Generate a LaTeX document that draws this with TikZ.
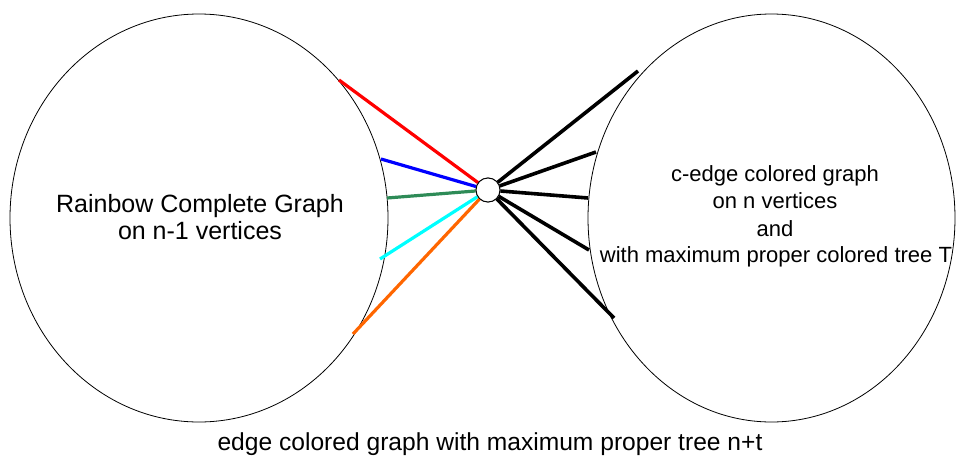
\documentclass[tikz,border=0pt]{standalone}
\usepackage{fontspec}
\setmainfont{Liberation Sans}
\usetikzlibrary{shapes.geometric}
\definecolor{eRed}{RGB}{255,0,0}
\definecolor{eBlue}{RGB}{0,0,255}
\definecolor{eGreen}{RGB}{46,139,87}
\definecolor{eCyan}{RGB}{0,255,255}
\definecolor{eOrange}{RGB}{255,102,0}
\tikzset{
  blob/.style={ellipse, draw=black, line width=0.8pt, inner sep=0pt},
  hub/.style={circle, draw=black, fill=white, line width=0.9pt, minimum size=24pt, inner sep=0pt},
  cedge/.style={line width=3.2pt},
  bedge/.style={line width=3.6pt, draw=black},
  lbl/.style={anchor=base, inner sep=0pt},
  bigtxt/.style={lbl, font=\fontsize{25}{27}\selectfont},
  midtxt/.style={lbl, font=\fontsize{22}{26}\selectfont},
}
\begin{document}
\begin{tikzpicture}[x=1pt,y=-1pt]
\useasboundingbox (0,0) rectangle (956,458);
\node[blob, minimum width=378pt, minimum height=408pt] (L) at (199,218) {};
\node[blob, minimum width=367pt, minimum height=408pt] (R) at (771.5,218) {};
\node[hub] (h) at (488,190) {};
\coordinate (r1) at (339,80);
\coordinate (b1) at (381,159);
\coordinate (g1) at (387,198);
\coordinate (c1) at (380,259);
\coordinate (o1) at (353,334);
\coordinate (k1) at (638,71);
\coordinate (k2) at (596,152);
\coordinate (k3) at (588,198);
\coordinate (k4) at (589,250);
\coordinate (k5) at (614,318);
\draw[cedge, eRed] (r1) -- (h);
\draw[cedge, eBlue] (b1) -- (h);
\draw[cedge, eGreen] (g1) -- (h);
\draw[cedge, eCyan] (c1) -- (h);
\draw[cedge, eOrange] (o1) -- (h);
\draw[bedge] (k1) -- (h);
\draw[bedge] (k2) -- (h);
\draw[bedge] (k3) -- (h);
\draw[bedge] (k4) -- (h);
\draw[bedge] (k5) -- (h);
\node[hub] (h2) at (h) {};
\node[bigtxt] (t1) at (200,212) {Rainbow Complete Graph};
\node[bigtxt] (t2) at (200,239) {on n-1 vertices};
\node[midtxt] (u1) at (775,181) {c-edge colored graph};
\node[midtxt] (u2) at (775,208) {on n vertices};
\node[midtxt] (u3) at (775,236) {and};
\node[midtxt] (u4) at (776,262) {with maximum proper colored tree T};
\node[font=\fontsize{24.6}{28}\selectfont, lbl] (cap) at (490,450) {edge colored graph with maximum proper tree n+t};
\end{tikzpicture}
\end{document}
